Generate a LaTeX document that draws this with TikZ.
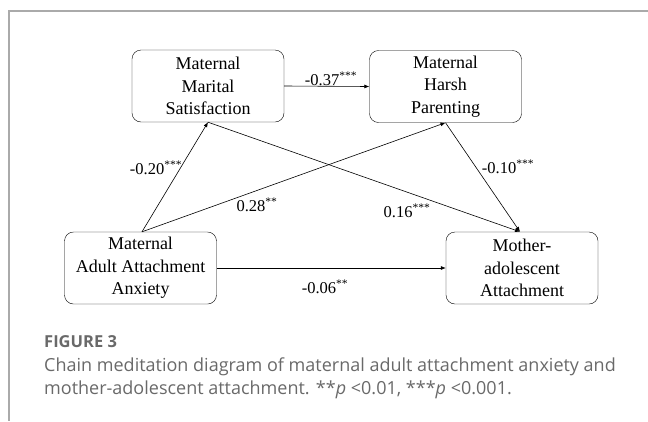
\documentclass[tikz,border=0pt]{standalone}
\usepackage{fontspec}
\setmainfont{Liberation Serif}
\newfontfamily\capfont{Open Sans}
\usetikzlibrary{arrows.meta}
\definecolor{framegray}{RGB}{170,170,170}
\definecolor{capgray}{RGB}{105,105,105}
\tikzset{
box/.style={draw, rounded corners=9pt, minimum width=152pt, minimum height=72pt,
    align=center, inner sep=0pt, font=\fontsize{18}{22.5}\selectfont},
coef/.style={inner sep=0pt, font=\fontsize{16.5}{18}\selectfont},
arr/.style={draw, line width=0.6pt, -{Latex[length=5pt,width=4pt]}}
}
\newcommand{\stars}[1]{\textsuperscript{#1}}

\begin{document}
\begin{tikzpicture}[x=1pt,y=-1pt]
\useasboundingbox (0,0) rectangle (648,421);
\draw[framegray, line width=1.2pt] (648,11) -- (9,11) -- (9,421);

% constructs
\node[box] (mms) at (208,86) {Maternal\\Marital\\Satisfaction};
\node[box] (mhp) at (445.5,86.5) {Maternal\\Harsh\\Parenting};
\node[box] (anx) at (140.5,268) {Maternal\\Adult Attachment\\Anxiety};
\node[box] (att) at (522,268) {Mother-\\adolescent\\Attachment};

% paths
\draw[arr] (mms.east) -- (mhp.west);
\draw[arr] ([xshift=1.5pt]anx.north) -- (mms.south);
\draw[arr] ([xshift=1.5pt]anx.north) -- (mhp.south);
\draw[arr] (mms.south) -- ([xshift=-2pt]att.north);
\draw[arr] (mhp.south) -- ([xshift=-2pt]att.north);
\draw[arr] (anx.east) -- (att.west);

% coefficients
\node[coef] (c37) at (331,79) {-0.37\stars{***}};
\node[coef] (c20) at (156,168) {-0.20\stars{***}};
\node[coef] (c28) at (257,205) {0.28\stars{**}};
\node[coef] (c16) at (407,211) {0.16\stars{***}};
\node[coef] (c10) at (508,167) {-0.10\stars{***}};
\node[coef] (c06) at (325,287) {-0.06\stars{**}};

% caption
\node[anchor=base west, inner sep=0pt, text=capgray,
    font=\capfont\bfseries\fontsize{16.5}{18}\selectfont] (fig) at (44,347) {FIGURE 3};
\node[anchor=base west, inner sep=0pt, text=capgray, align=left,
    font=\capfont\fontsize{18}{23}\selectfont] (cap) at (44,394)
    {Chain meditation diagram of maternal adult attachment anxiety and\\
     mother-adolescent attachment. **\textit{p} <0.01, ***\textit{p} <0.001.};
\end{tikzpicture}
\end{document}
